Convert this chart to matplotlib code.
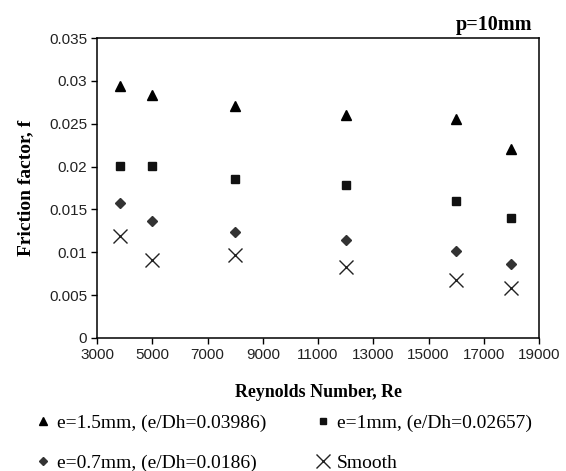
import matplotlib.pyplot as plt
from matplotlib.lines import Line2D

# Reynolds numbers
re = [3830, 5000, 8000, 12000, 16000, 18000]

# Friction factor for each rib height
f_15 = [0.0294, 0.0284, 0.0271, 0.0260, 0.0256, 0.0220]
f_10 = [0.0201, 0.0201, 0.0186, 0.0179, 0.0160, 0.0140]
f_07 = [0.0157, 0.0137, 0.0124, 0.0114, 0.0101, 0.0086]
f_smooth = [0.0119, 0.0091, 0.0097, 0.0083, 0.0068, 0.0058]

labels = ["e=1.5mm, (e/Dh=0.03986)", "e=1mm, (e/Dh=0.02657)",
          "e=0.7mm, (e/Dh=0.0186)", "Smooth"]

serif = "Liberation Serif"
sans = "Liberation Sans"

fig = plt.figure(figsize=(5.66, 4.71), dpi=100)
ax = fig.add_axes([0.1714, 0.2824, 0.7809, 0.6369])

ax.plot(re, f_15, '^', color='black', ms=7, ls='none')
ax.plot(re, f_10, 's', color='#111111', ms=5.5, ls='none')
ax.plot(re, f_07, 'D', color='#333333', ms=5, ls='none')
ax.plot(re, f_smooth, 'x', color='#222222', ms=10, mew=1.0, ls='none')

ax.set_xlim(3000, 19000)
ax.set_ylim(0, 0.035)
ax.set_xticks(range(3000, 19001, 2000))
ax.set_yticks([0, 0.005, 0.01, 0.015, 0.02, 0.025, 0.03, 0.035])
ax.set_yticklabels(['0', '0.005', '0.01', '0.015', '0.02', '0.025', '0.03', '0.035'])
ax.tick_params(direction='out', length=4, width=1, labelsize=11, pad=3)
for lab in ax.get_xticklabels() + ax.get_yticklabels():
    lab.set_fontfamily(sans)
    lab.set_color('#222222')
for sp in ax.spines.values():
    sp.set_linewidth(1.1)

ax.set_xlabel("Reynolds Number, Re", fontfamily=serif, fontweight='bold',
              fontsize=12.9, labelpad=16)
ax.set_ylabel("Friction factor, f", fontfamily=serif, fontweight='bold',
              fontsize=14, labelpad=11)

fig.text(0.94, 0.947, "p=10mm", fontfamily=serif, fontweight='bold',
         fontsize=14.5, ha='right', va='center')

# smaller markers in the legend than in the plot
hl = [Line2D([], [], marker='^', color='black', ms=6, ls='none'),
      Line2D([], [], marker='D', color='#333333', ms=4.5, ls='none'),
      Line2D([], [], marker='s', color='#111111', ms=4.5, ls='none'),
      Line2D([], [], marker='x', color='#222222', ms=10, mew=1.0, ls='none')]

# legend rows: triangle / square on top, diamond / smooth below
fig.legend(hl, [labels[0], labels[2], labels[1], labels[3]],
           ncol=2, loc='upper left', bbox_to_anchor=(0.0625, 0.121),
           frameon=False, prop={'family': serif, 'size': 14},
           handletextpad=0.32, columnspacing=2.5, labelspacing=1.15,
           handlelength=0.8, borderaxespad=0, borderpad=0)

fig.savefig("out.png", dpi=100)
